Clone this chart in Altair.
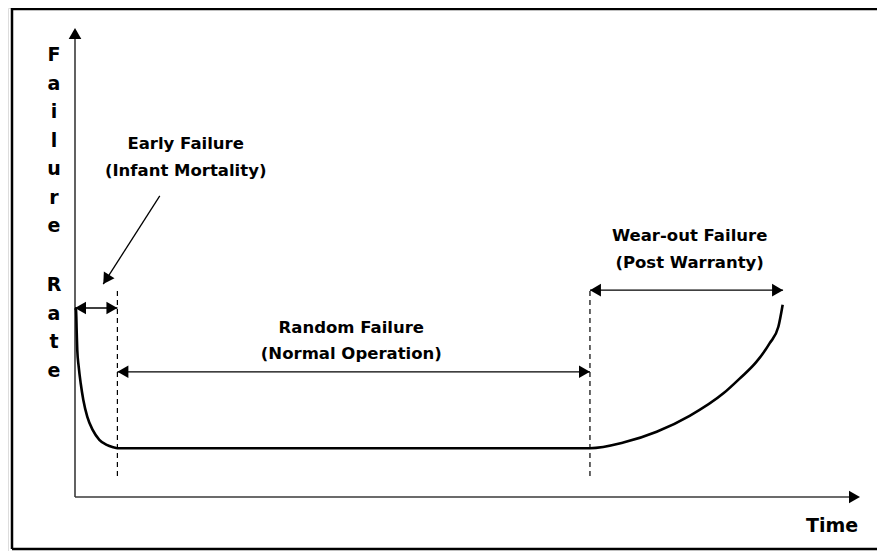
import math
import altair as alt
import pandas as pd

# ---- data (arbitrary time / failure-rate units) ----
curve_time = [0, 0.13, 0.22, 0.29, 0.47, 0.73, 1.06, 1.57, 2.25, 3.1, 4.04, 4.88, 5.4,
              65.6, 69.85, 74.1, 78.3, 82.6, 84.7, 86.8, 88.5, 89.6, 90.15]
curve_rate = [40.3, 39.9, 35.0, 31.3, 27.8, 24.2, 20.7, 17.1, 14.3, 12.2, 11.1, 10.6, 10.4,
              10.4, 11.6, 13.9, 17.3, 22.1, 25.3, 28.8, 32.8, 36.3, 41.0]

phase_start = [0, 5.4, 65.6]
phase_end = [5.4, 65.6, 90.2]
phase_arrow_rate = [40.3, 26.7, 44.1]

divider_time = [5.4, 65.6]
divider_bottom = [4.5, 4.5]
divider_top = [44.6, 44.3]

label_lines = ["Early Failure", "(Infant Mortality)", "Random Failure", "(Normal Operation)",
               "Wear-out Failure", "(Post Warranty)"]
label_time = [14.1, 14.1, 35.2, 35.2, 78.3, 78.3]
label_rate = [75.3, 69.5, 36.0, 30.5, 55.7, 49.9]

pointer_from = (10.8, 64.2)
pointer_to = (3.6, 45.4)

axis_max_time = 100
axis_max_rate = 100

y_title_words = ["Failure", "Rate"]
x_title = "Time"

# ---- layout ----
W, H = 869, 543
KX, KY = 7.85, 4.69           # pixels per unit
X0, Y0 = 67, 489              # origin in svg pixels
xdom = [-X0 / KX, -X0 / KX + W / KX]
ydom = [Y0 / KY - H / KY, Y0 / KY]

xs = alt.Scale(domain=xdom, nice=False, zero=False)
ys = alt.Scale(domain=ydom, nice=False, zero=False)

HEAD = 160
HALF = 5.5  # half head length in px


def head(tip_t, tip_r, dx, dy):
    # dx, dy: screen direction (pixels) the arrow points to
    n = math.hypot(dx, dy)
    ux, uy = dx / n, dy / n
    ct = tip_t - ux * HALF / KX
    cr = tip_r + uy * HALF / KY
    ang = math.degrees(math.atan2(ux, -uy)) % 360
    return {"t": ct, "r": cr, "a": ang}


heads = []
for s, e, r in zip(phase_start, phase_end, phase_arrow_rate):
    heads.append(head(s, r, -1, 0))
    heads.append(head(e, r, 1, 0))
pdx = (pointer_to[0] - pointer_from[0]) * KX
pdy = -(pointer_to[1] - pointer_from[1]) * KY
heads.append(head(pointer_to[0], pointer_to[1], pdx, pdy))
axis_heads = [head(0, axis_max_rate, 0, -1), head(axis_max_time, 0, 1, 0)]

curve_df = pd.DataFrame({"t": curve_time, "r": curve_rate})
span_df = pd.DataFrame({"t": phase_start, "t2": phase_end, "r": phase_arrow_rate})
div_df = pd.DataFrame({"t": divider_time, "r": divider_bottom, "r2": divider_top})
lab_df = pd.DataFrame({"label": label_lines, "t": label_time, "r": label_rate})
ptr_df = pd.DataFrame({"t": [pointer_from[0]], "r": [pointer_from[1]],
                       "t2": [pointer_to[0]], "r2": [pointer_to[1]]})
heads_df = pd.DataFrame(heads)
axis_heads_df = pd.DataFrame(axis_heads)
axes_df = pd.DataFrame({"t": [0, 0], "r": [0, 0],
                        "t2": [0, axis_max_time - 1.2], "r2": [axis_max_rate - 2, 0]})

one = alt.Data(values=[{}])

FONT = "DejaVu Sans"

border = alt.layer(
    alt.Chart(one).mark_rule(color="black", strokeWidth=2.5).encode(
        x=alt.value(4), y=alt.value(0), y2=alt.value(541)),
    alt.Chart(one).mark_rule(color="black", strokeWidth=2.5).encode(
        x=alt.value(4), x2=alt.value(W), y=alt.value(1)),
    alt.Chart(one).mark_rule(color="black", strokeWidth=2.5).encode(
        x=alt.value(4), x2=alt.value(W), y=alt.value(541)),
)

axes = alt.Chart(axes_df).mark_rule(color="#3a3a3a", strokeWidth=1.6).encode(
    x=alt.X("t:Q", scale=xs, axis=None), x2="t2:Q",
    y=alt.Y("r:Q", scale=ys, axis=None), y2="r2:Q")

axis_head_marks = alt.Chart(axis_heads_df).mark_point(
    shape="triangle-up", filled=True, color="black", opacity=1, size=HEAD).encode(
    x=alt.X("t:Q", scale=xs), y=alt.Y("r:Q", scale=ys), angle=alt.Angle("a:Q", scale=None))

dividers = alt.Chart(div_df).mark_rule(color="black", strokeWidth=1.2, strokeDash=[5, 4]).encode(
    x=alt.X("t:Q", scale=xs), y=alt.Y("r:Q", scale=ys), y2="r2:Q")

spans = alt.Chart(span_df).mark_rule(color="black", strokeWidth=1.3).encode(
    x=alt.X("t:Q", scale=xs), x2="t2:Q", y=alt.Y("r:Q", scale=ys))

pointer = alt.Chart(ptr_df).mark_rule(color="black", strokeWidth=1.3).encode(
    x=alt.X("t:Q", scale=xs), x2="t2:Q", y=alt.Y("r:Q", scale=ys), y2="r2:Q")

head_marks = alt.Chart(heads_df).mark_point(
    shape="triangle-up", filled=True, color="black", opacity=1, size=HEAD).encode(
    x=alt.X("t:Q", scale=xs), y=alt.Y("r:Q", scale=ys), angle=alt.Angle("a:Q", scale=None))

curve = alt.Chart(curve_df).mark_line(color="black", strokeWidth=2.6, interpolate="monotone").encode(
    x=alt.X("t:Q", scale=xs), y=alt.Y("r:Q", scale=ys), order="t:Q")

labels = alt.Chart(lab_df).mark_text(font=FONT, fontWeight="bold", fontSize=16.5,
                                      color="black", align="center", baseline="middle").encode(
    x=alt.X("t:Q", scale=xs), y=alt.Y("r:Q", scale=ys), text="label:N")

ytitle = alt.layer(*[
    alt.Chart(one).mark_text(font=FONT, fontWeight="bold", fontSize=19, color="black",
                             align="center", baseline="middle", lineHeight=28.5).encode(
        x=alt.value(46), y=alt.value(ypos), text=alt.value(list(word)))
    for word, ypos in zip(y_title_words, [47, 277])
])

xtitle = alt.Chart(one).mark_text(font=FONT, fontWeight="bold", fontSize=19, color="black",
                                   align="center", baseline="middle").encode(
    x=alt.value(824), y=alt.value(518), text=alt.value(x_title))

chart = alt.layer(
    border, axes, axis_head_marks, dividers, spans, pointer, head_marks, curve, labels, ytitle, xtitle
).properties(
    width=W, height=H, padding=0, autosize=alt.AutoSizeParams(type="none")
).configure_view(stroke=None).configure(background="white")

chart.save("out.html", embed_options={"renderer": "svg", "actions": False})
